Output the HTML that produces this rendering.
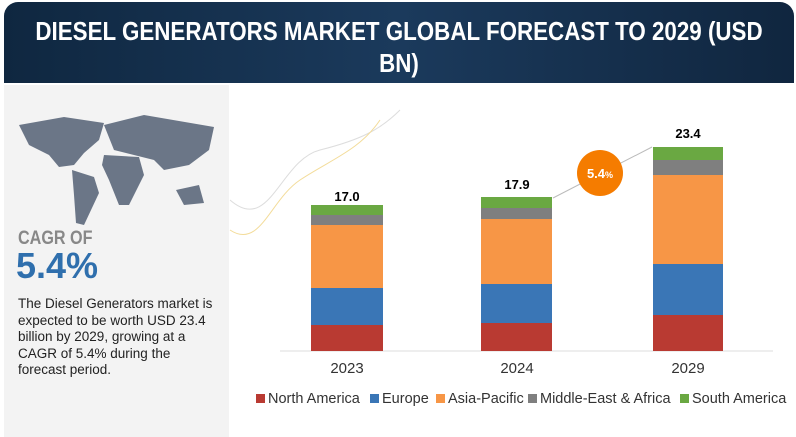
<!DOCTYPE html><html><head><style>
body{margin:0;width:796px;height:437px;background:#fff;font-family:"Liberation Sans",sans-serif;position:relative;overflow:hidden}
.hd{position:absolute;left:4px;top:2px;width:790px;height:81px;border-radius:14px 14px 0 0;background:linear-gradient(90deg,#0f2740,#1b3a5c 50%,#10263f);color:#fff;font-size:26px;font-weight:bold}
.hd span{position:absolute;left:50%;transform:translateX(-50%) scaleX(.86);white-space:nowrap}
.lp{position:absolute;left:4px;top:85px;width:225px;height:352px;background:#f3f3f3}
.b{position:absolute}
.t{position:absolute;font-weight:bold;font-size:13px;text-align:center;width:72px}
.y{position:absolute;top:360px;font-size:15px;color:#333;width:72px;text-align:center}
.lg{position:absolute;top:391px;font-size:14.5px;color:#333;white-space:nowrap}
.lg i{display:inline-block;width:9px;height:9px;margin-right:3px}
</style></head><body>
<div class="hd"><span style="top:14px">DIESEL GENERATORS MARKET GLOBAL FORECAST TO 2029 (USD</span><span style="top:46px">BN)</span></div>
<div class="lp">
<svg width="225" height="150" style="position:absolute;left:0;top:20px"><g fill="#6b7687">
<path d="M15,20 L60,12 L100,18 L95,35 L80,48 L70,60 L55,62 L45,50 L25,40 Z"/>
<path d="M68,65 L90,72 L95,88 L80,120 L72,118 L70,90 Z"/>
<path d="M100,20 L140,10 L210,22 L205,45 L185,60 L160,65 L150,55 L130,50 L110,45 Z"/>
<path d="M100,50 L135,52 L140,70 L125,100 L115,100 L105,75 L98,60 Z"/>
<path d="M172,85 L195,80 L200,98 L180,100 Z"/></g></svg>
<div style="position:absolute;left:14px;top:143px;font-size:19px;color:#888;font-weight:bold;transform:scaleX(.85);transform-origin:left">CAGR OF</div>
<div style="position:absolute;left:12px;top:160px;font-size:36px;color:#2f6fad;font-weight:bold">5.4%</div>
<div style="position:absolute;left:14px;top:211px;width:196px;font-size:13.5px;line-height:16.5px;color:#222">The Diesel Generators market is expected to be worth USD 23.4 billion by 2029, growing at a CAGR of 5.4% during the forecast period.</div>
</div>
<svg width="796" height="437" style="position:absolute;left:0;top:0">
<path d="M230,200 C270,235 280,160 320,150 C360,140 380,130 400,110" stroke="#ddd" fill="none"/>
<path d="M230,230 C260,250 270,200 300,180 C330,160 360,150 380,120" stroke="#f3dc9a" fill="none"/>
<line x1="280" y1="351" x2="773" y2="351" stroke="#ddd"/>
<line x1="553" y1="198" x2="652" y2="147" stroke="#bbb"/>
<circle cx="600" cy="173" r="23" fill="#f57c00"/>
<text x="600" y="178" fill="#fff" font-size="13" font-weight="bold" text-anchor="middle">5.4<tspan font-size="9">%</tspan></text>
</svg>
<div class="b" style="left:311px;top:205px;width:72px;height:10px;background:#6aa842"></div>
<div class="b" style="left:311px;top:215px;width:72px;height:10px;background:#7f7f7f"></div>
<div class="b" style="left:311px;top:225px;width:72px;height:63px;background:#f79646"></div>
<div class="b" style="left:311px;top:288px;width:72px;height:37px;background:#3a76b6"></div>
<div class="b" style="left:311px;top:325px;width:72px;height:26px;background:#b93a32"></div>
<div class="b" style="left:481px;top:197px;width:71px;height:11px;background:#6aa842"></div>
<div class="b" style="left:481px;top:208px;width:71px;height:11px;background:#7f7f7f"></div>
<div class="b" style="left:481px;top:219px;width:71px;height:65px;background:#f79646"></div>
<div class="b" style="left:481px;top:284px;width:71px;height:39px;background:#3a76b6"></div>
<div class="b" style="left:481px;top:323px;width:71px;height:28px;background:#b93a32"></div>
<div class="b" style="left:653px;top:147px;width:70px;height:13px;background:#6aa842"></div>
<div class="b" style="left:653px;top:160px;width:70px;height:15px;background:#7f7f7f"></div>
<div class="b" style="left:653px;top:175px;width:70px;height:89px;background:#f79646"></div>
<div class="b" style="left:653px;top:264px;width:70px;height:51px;background:#3a76b6"></div>
<div class="b" style="left:653px;top:315px;width:70px;height:36px;background:#b93a32"></div>
<div class="t" style="left:311px;top:189px">17.0</div>
<div class="t" style="left:481px;top:177px">17.9</div>
<div class="t" style="left:652px;top:126px">23.4</div>
<div class="y" style="left:311px">2023</div>
<div class="y" style="left:481px">2024</div>
<div class="y" style="left:652px">2029</div>
<div class="lg" style="left:256px"><i style="background:#b93a32"></i>North America</div>
<div class="lg" style="left:370px"><i style="background:#3a76b6"></i>Europe</div>
<div class="lg" style="left:436px"><i style="background:#f79646"></i>Asia-Pacific</div>
<div class="lg" style="left:528px"><i style="background:#7f7f7f"></i>Middle-East &amp; Africa</div>
<div class="lg" style="left:680px"><i style="background:#6aa842"></i>South America</div>
</body></html>
